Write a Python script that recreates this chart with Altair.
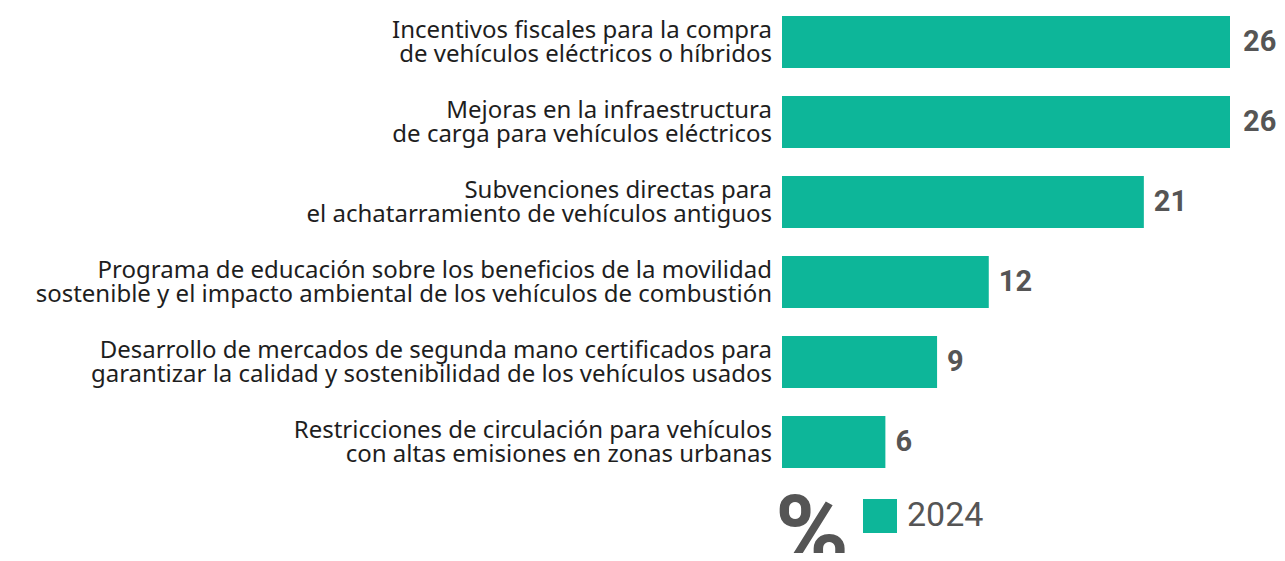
import altair as alt
import pandas as pd

labels = [
    "Incentivos fiscales para la compra\nde vehículos eléctricos o híbridos",
    "Mejoras en la infraestructura\nde carga para vehículos eléctricos",
    "Subvenciones directas para\nel achatarramiento de vehículos antiguos",
    "Programa de educación sobre los beneficios de la movilidad\nsostenible y el impacto ambiental de los vehículos de combustión",
    "Desarrollo de mercados de segunda mano certificados para\ngarantizar la calidad y sostenibilidad de los vehículos usados",
    "Restricciones de circulación para vehículos\ncon altas emisiones en zonas urbanas",
]
values = [26, 26, 21, 12, 9, 6]
series = ["2024"] * 6

df = pd.DataFrame({"label": labels, "value": values, "year": series})

GREEN = "#0db699"

y_enc = alt.Y("label:N", sort=labels,
              scale=alt.Scale(paddingInner=0.35, paddingOuter=0), axis=None)
x_scale = alt.Scale(domain=[0, 26], nice=False, zero=True)

base = alt.Chart(df)

bars = base.mark_bar().encode(
    y=y_enc,
    x=alt.X("value:Q", scale=x_scale, axis=None),
    color=alt.Color("year:N", scale=alt.Scale(range=[GREEN]),
                    legend=alt.Legend(
                        title="%", orient="none", legendX=-7, legendY=483,
                        direction="horizontal", titleOrient="left",
                        titleFontSize=100, titleFontWeight="bold", titleColor="#555555",
                        titleFont="Roboto", titlePadding=14,
                        titleBaseline="line-top", titleLineHeight=41,
                        symbolType="square", symbolSize=1156, symbolStrokeWidth=0,
                        symbolOpacity=1, symbolFillColor=GREEN,
                        labelFontSize=34, labelFont="Roboto", labelColor="#555555",
                        labelOffset=10)),
)

names = base.mark_text(align="right", baseline="middle", font="Noto Sans",
                       fontSize=24, color="#1e1e1e", lineBreak="\n", lineHeight=24,
                       dx=-10, dy=-11).encode(
    y=y_enc, x=alt.value(0), text="label:N")

nums_hi = base.transform_filter("datum.value >= 26").mark_text(
    align="left", baseline="middle", font="Roboto",
    fontWeight="bold", fontSize=29, color="#555555", dx=13).encode(
    y=y_enc, x=alt.X("value:Q", scale=x_scale), text="value:Q")

nums_lo = base.transform_filter("datum.value < 26").mark_text(
    align="left", baseline="middle", font="Roboto",
    fontWeight="bold", fontSize=29, color="#555555", dx=10).encode(
    y=y_enc, x=alt.X("value:Q", scale=x_scale), text="value:Q")

chart = alt.layer(bars, names, nums_hi, nums_lo).properties(
    width=448, height=452,
    padding={"left": 774, "top": 8, "right": 47, "bottom": 85},
    autosize=alt.AutoSizeParams(type="none"),
).configure_view(stroke=None, strokeWidth=0)

chart.save("out.html", embed_options={"renderer": "svg", "actions": False})
